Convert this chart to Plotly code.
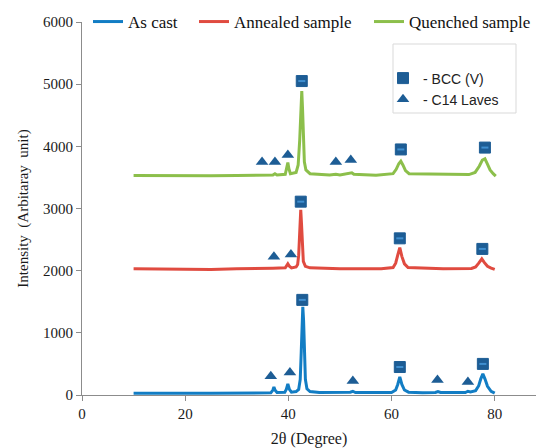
import plotly.graph_objects as go

# ---------------- data ----------------
ascast_x = [10, 15, 20, 25, 30, 35, 36.6, 37.0, 37.2, 37.4, 37.8, 39.3, 39.6, 39.9, 40.2, 40.6, 41.5, 42.0, 42.3, 42.5,
            42.65, 42.8, 42.95, 43.1, 43.3, 43.6, 44.2, 46, 51, 52, 52.5, 53, 60, 60.8, 61.2, 61.6, 62.0, 62.5, 63.3,
            66, 68.5, 69, 69.5, 74.3, 74.8, 75.3, 76.3, 76.9, 77.3, 77.7, 78.1, 78.6, 79.3, 80]
ascast_y = [30, 25, 30, 28, 30, 32, 35, 80, 130, 80, 40, 45, 90, 180, 90, 45, 55, 90, 250, 700,
            1200, 1420, 1200, 700, 250, 100, 55, 40, 35, 45, 60, 40, 40, 80, 170, 290, 170, 80, 45,
            35, 40, 55, 40, 40, 60, 50, 70, 150, 260, 340, 260, 140, 60, 30]

anneal_x = [10, 15, 20, 25, 30, 35, 37, 39.4, 39.7, 39.9, 40.2, 40.6, 41.5, 41.8, 42.0, 42.2, 42.4, 42.55, 42.7, 42.9,
            43.3, 44.2, 50, 58, 60.3, 60.8, 61.2, 61.6, 62.0, 62.5, 63.2, 70, 75.5, 76.3, 76.9, 77.5, 78.0, 78.6,
            79.3, 80]
anneal_y = [2030, 2025, 2030, 2020, 2030, 2030, 2040, 2045, 2080, 2110, 2070, 2045, 2060, 2100, 2250, 2600, 2980, 2750,
            2350, 2150, 2070, 2045, 2030, 2030, 2050, 2120, 2250, 2370, 2230, 2110, 2050, 2030, 2035, 2060, 2120,
            2190, 2130, 2070, 2040, 2020]

quench_x = [10, 15, 20, 25, 30, 34.5, 35, 35.5, 37, 37.4, 37.8, 39.4, 39.7, 39.9, 40.1, 40.4, 41.5, 41.9, 42.2, 42.4,
            42.6, 42.75, 42.9, 43.1, 43.4, 44.2, 48, 49.2, 50, 52, 52.3, 52.7, 57, 60.3, 60.9, 61.4, 61.8, 62.2, 62.7,
            63.4, 69, 75, 76.2, 77, 77.6, 78.1, 78.5, 79.1, 79.7, 80.2]
quench_y = [3530, 3525, 3530, 3525, 3530, 3535, 3545, 3535, 3540, 3560, 3540, 3550, 3640, 3740, 3640, 3560, 3580, 3700,
            4100, 4600, 4890, 4600, 4100, 3750, 3620, 3560, 3540, 3550, 3540, 3560, 3575, 3550, 3535, 3560, 3630,
            3720, 3760, 3700, 3610, 3560, 3550, 3545, 3580, 3680, 3780, 3800, 3730, 3620, 3560, 3520]

bcc_x = [42.7, 61.6, 77.7, 42.4, 61.6, 77.6, 42.6, 61.8, 78.1]
bcc_y = [1530, 450, 500, 3110, 2520, 2350, 5050, 3950, 3980]

c14_x = [36.6, 40.3, 52.5, 68.9, 74.8, 37.2, 40.5, 34.9, 37.4, 39.9, 49.2, 52.1]
c14_y = [300, 360, 225, 240, 210, 2225, 2260, 3750, 3750, 3860, 3750, 3780]

x_ticks = [0, 20, 40, 60, 80]
y_ticks = [0, 1000, 2000, 3000, 4000, 5000, 6000]

# ---------------- layout helpers ----------------
W, H = 536, 448
L, R, T, B = 82, 536, 22, 395


def px2x(px):
    return (px - L) / (R - L)


def px2y(py):
    return (B - py) / (B - T)


MARK = "#1d5d95"
SERIF = "Liberation Serif"

fig = go.Figure()
fig.add_trace(go.Scatter(x=ascast_x, y=ascast_y, mode="lines", name="As cast", legend="legend",
                         line=dict(color="#127dc4", width=3)))
fig.add_trace(go.Scatter(x=anneal_x, y=anneal_y, mode="lines", name="Annealed sample", legend="legend3",
                         line=dict(color="#e04b40", width=3)))
fig.add_trace(go.Scatter(x=quench_x, y=quench_y, mode="lines", name="Quenched sample", legend="legend4",
                         line=dict(color="#8cbf4b", width=3)))
fig.add_trace(go.Scatter(x=bcc_x, y=bcc_y, mode="markers", name="- BCC (V)", legend="legend2",
                         marker=dict(symbol="square", size=11, color=MARK, line=dict(color=MARK, width=1))))
fig.add_trace(go.Scatter(x=bcc_x, y=bcc_y, mode="markers", showlegend=False, hoverinfo="skip",
                         marker=dict(symbol="line-ew", size=5, line=dict(color="#3f8fd0", width=2))))
fig.add_trace(go.Scatter(x=c14_x, y=c14_y, mode="markers", name="- C14 Laves", legend="legend2",
                         marker=dict(symbol="triangle-up", size=11, color=MARK)))

fig.add_shape(type="rect", xref="paper", yref="paper",
              x0=px2x(393), x1=px2x(516), y0=px2y(113), y1=px2y(44),
              line=dict(color="#d9d9d9", width=1), fillcolor="white", layer="below")

top_legend = dict(orientation="h", xanchor="left", y=px2y(22), yanchor="middle",
                  font=dict(family=SERIF, size=17, color="#111"), bgcolor="rgba(0,0,0,0)")

fig.update_layout(
    width=W, height=H,
    margin=dict(l=L, r=W - R, t=T, b=H - B),
    plot_bgcolor="white", paper_bgcolor="white",
    font=dict(family=SERIF, size=15, color="#1a1a1a"),
    showlegend=True,
    legend=dict(top_legend, x=px2x(88)),
    legend3=dict(top_legend, x=px2x(194)),
    legend4=dict(top_legend, x=px2x(369)),
    legend2=dict(orientation="v", x=px2x(383), xanchor="left", y=px2y(89), yanchor="middle",
                 font=dict(family="Liberation Sans", size=14, color="#222"), bgcolor="rgba(0,0,0,0)",
                 itemwidth=30, tracegroupgap=0),
    xaxis=dict(range=[0, 88], tickvals=x_ticks, ticktext=[str(v) for v in x_ticks],
               showgrid=False, zeroline=False, showline=True, linecolor="#8c8c8c", linewidth=1,
               ticks="outside", ticklen=5, tickcolor="#8c8c8c",
               title=dict(text="2θ (Degree)", font=dict(family=SERIF, size=16), standoff=14)),
    yaxis=dict(range=[0, 6000], tickvals=y_ticks, ticktext=[str(v) for v in y_ticks],
               showgrid=False, zeroline=False, showline=True, linecolor="#8c8c8c", linewidth=1,
               ticks="outside", ticklen=5, tickcolor="#8c8c8c",
               title=dict(text="Intensity  (Arbitaray  unit)", font=dict(family=SERIF, size=15), standoff=10)),
)

fig.write_html("out.html")
